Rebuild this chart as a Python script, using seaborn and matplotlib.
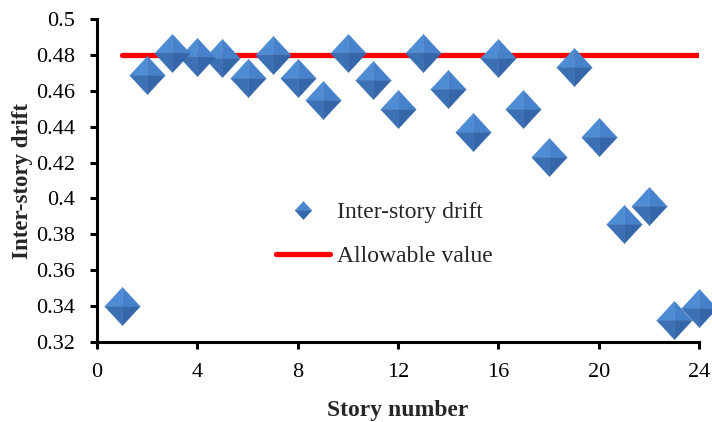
import matplotlib
matplotlib.use("Agg")
import matplotlib.pyplot as plt
from matplotlib.path import Path
from matplotlib.lines import Line2D
from matplotlib.legend_handler import HandlerTuple
import seaborn as sns
import pandas as pd

# ---- data ----
stories = [1, 2, 3, 4, 5, 6, 7, 8, 9, 10, 11, 12, 13, 14, 15, 16, 17, 18, 19, 20, 21, 22, 23, 24]
drift = [0.340, 0.469, 0.481, 0.479, 0.478, 0.467, 0.480, 0.467, 0.455, 0.481, 0.466, 0.450,
         0.481, 0.461, 0.437, 0.478, 0.450, 0.423, 0.473, 0.434, 0.386, 0.396, 0.332, 0.339]
allowable_value = 0.48
x_ticks = [0, 4, 8, 12, 16, 20, 24]
y_ticks = [0.32, 0.34, 0.36, 0.38, 0.40, 0.42, 0.44, 0.46, 0.48, 0.50]

df = pd.DataFrame({"story": stories, "drift": drift})

sns.set_style("white")
plt.rcParams["font.family"] = ["Liberation Serif", "DejaVu Serif"]

fig = plt.figure(figsize=(7.12, 4.22), dpi=100)
ax = fig.add_axes([97 / 712, 1 - 342 / 422, (699 - 97) / 712, (342 - 19) / 422])

# allowable line
sns.lineplot(x=[stories[0], stories[-1]], y=[allowable_value, allowable_value],
             ax=ax, color="#FF0000", lw=3.8, solid_capstyle="round", zorder=2)

# pyramid-like diamond markers: four shaded facets (slightly taller than wide)
H = 1.08
facets = [
    ([(0, 0), (-1, 0), (0, H), (0, 0)], "#4E8CD4"),   # top-left
    ([(0, 0), (0, H), (1, 0), (0, 0)], "#4682CB"),    # top-right
    ([(0, 0), (-1, 0), (0, -H), (0, 0)], "#3C70B4"),  # bottom-left
    ([(0, 0), (0, -H), (1, 0), (0, 0)], "#3466A9"),   # bottom-right
]
msize = 27.5
for verts, col in facets:
    sns.scatterplot(data=df, x="story", y="drift", ax=ax, marker=Path(verts),
                    s=msize ** 2, color=col, edgecolor=col, linewidth=0.3,
                    zorder=3, clip_on=False, legend=False)

ax.set_xlim(0, 24)
ax.set_ylim(0.32, 0.5)
ax.set_xticks(x_ticks)
ax.set_yticks(y_ticks)
ax.set_yticklabels([f"{v:g}" for v in y_ticks])
ax.set_xticklabels([str(v) for v in x_ticks])

for side in ["top", "right"]:
    ax.spines[side].set_visible(False)
for side in ["left", "bottom"]:
    ax.spines[side].set_linewidth(2.2)
    ax.spines[side].set_color("black")

ax.tick_params(axis="both", which="major", direction="out", length=5, width=2.2,
               labelsize=16, colors="black", left=True, bottom=True)
ax.tick_params(axis="y", pad=11)
ax.tick_params(axis="x", pad=10)

ax.set_xlabel("Story number", fontsize=17, fontweight="bold", labelpad=13)
ax.set_ylabel("Inter-story drift", fontsize=16.5, fontweight="bold", labelpad=2)

top_half = Path([(-1, 0), (0, H), (1, 0), (-1, 0)])
bot_half = Path([(-1, 0), (0, -H), (1, 0), (-1, 0)])
diamond_handle = (
    Line2D([], [], marker=top_half, ls="none", markersize=13, markerfacecolor="#4A87CF",
           markeredgecolor="#4A87CF", markeredgewidth=0.3),
    Line2D([], [], marker=bot_half, ls="none", markersize=13, markerfacecolor="#3568AB",
           markeredgecolor="#3568AB", markeredgewidth=0.3),
)
handles = [diamond_handle, Line2D([], [], color="#FF0000", lw=3.8, solid_capstyle="round")]
ax.legend(handles, ["Inter-story drift", "Allowable value"], loc="center left",
          bbox_to_anchor=(0.297, 0.334), frameon=False, fontsize=17,
          handlelength=2.3, handletextpad=0.3, labelspacing=0.95,
          borderpad=0, borderaxespad=0,
          handler_map={tuple: HandlerTuple(ndivide=1)})

fig.savefig("out.png", dpi=100)
